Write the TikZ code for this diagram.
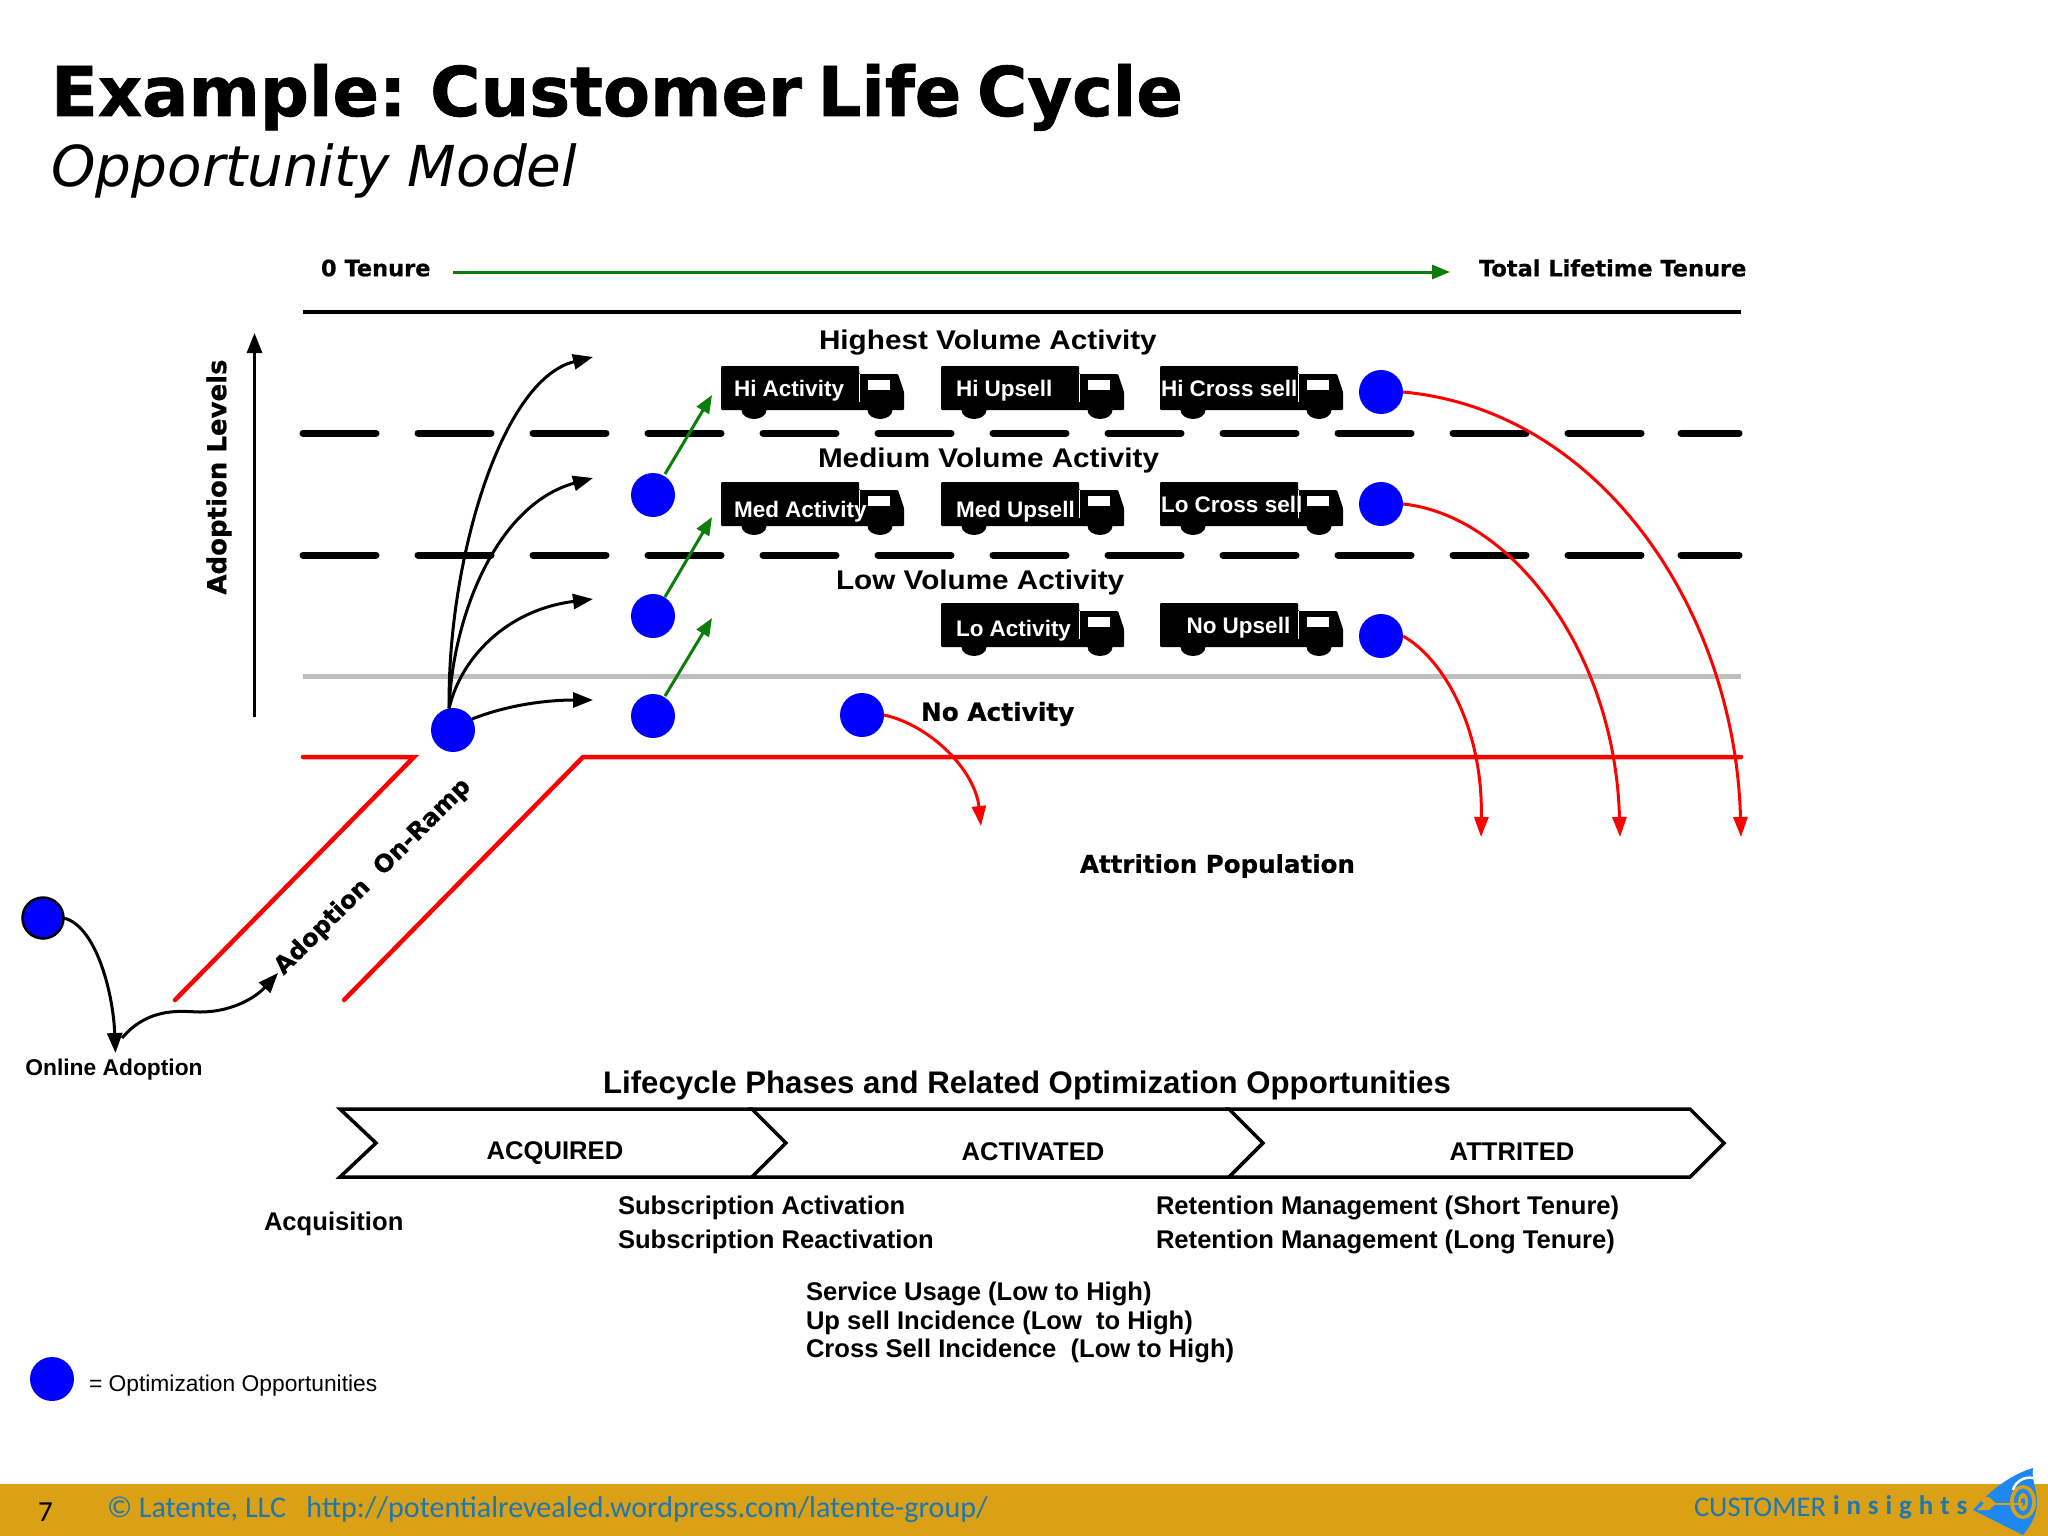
\documentclass[tikz,border=0pt]{standalone}
\usepackage{fontspec}
\setmainfont{Liberation Sans}
\newfontfamily\vbfam{DejaVu Sans}
\newfontfamily\vbheavy{DejaVu Sans}[BoldFeatures={FakeBold=0.6}]
\newfontfamily\tifam{DejaVu Sans}[BoldFeatures={FakeBold=1,WordSpace=0.66}]
\newfontfamily\crfam{Carlito}
\usetikzlibrary{arrows.meta}
\definecolor{band}{HTML}{DAA117}
\definecolor{fblue}{HTML}{1F77B0}
\definecolor{lblue}{HTML}{1E88F0}
\definecolor{arrgreen}{HTML}{0B7D0B}
\definecolor{grayline}{HTML}{BEBEBE}
\newcommand{\fsz}[1]{\fontsize{#1}{#1}\selectfont}
\newcommand{\lsp}{\hspace{6.9pt}}
\tikzset{
  txt/.style={inner sep=0pt,outer sep=0pt,anchor=west,text=black},
  ar/.style={txt,font={\fsz{#1}\bfseries}},
  hd/.style={txt,font={\fsz{27}\bfseries},xscale=1.10,transform shape},
  vb/.style={txt,font={\vbheavy\fsz{#1}\bfseries}},
  opp/.style={circle,fill=blue,inner sep=0pt,minimum size=44pt,outer sep=0pt},
  blk/.style={draw=black,line width=3pt,-{Triangle[length=20pt,width=15pt]}},
  grn/.style={draw=arrgreen,line width=3pt,-{Triangle[length=18pt,width=14pt]}},
  rd/.style={draw=red,line width=3pt,-{Triangle[length=20pt,width=14pt]}},
  road/.style={draw=red,line width=4.5pt,line cap=round,line join=miter},
  dashy/.style={draw=black,line width=7pt,line cap=round},
  chev/.style={draw=black,line width=3.5pt,line join=miter,fill=white},
}
\newcommand{\truck}[6]{% name,x,y,label,lx,ly
  \begin{scope}[shift={(#2,#3)}]
    \fill[black,rounded corners=1pt] (0,0) -- (138,0) -- (138,8) -- (177,8) -- (183,26) -- (183,44) -- (0,44) -- cycle;
    \fill[black] (33,44) ellipse (12.5 and 9);
    \fill[black] (159,44) ellipse (12.5 and 9);
    \fill[white] (147,13.5) rectangle (169,23.5);
    \draw[white,line width=1pt] (138.5,8) -- (138.5,36);
    \node[ar=22.5,text=white,anchor=west] (#1) at (#5,#6) {#4};
  \end{scope}}
\begin{document}
\begin{tikzpicture}[x=1pt,y=-1pt]
\useasboundingbox (0,0) rectangle (2048,1536);
\fill[white] (0,0) rectangle (2048,1536);
% title
\node[txt,anchor=base west,font={\tifam\fsz{68.6}\bfseries}] (title) at (51,116) {Example: Customer Life Cycle};
\node[txt,anchor=base west,font={\vbfam\fsz{56.4}\itshape}] (sub) at (51.5,186) {Opportunity Model};
% top
\node[vb=22.5] (t0) at (321,268) {0 Tenure};
\node[vb=22.5] (t1) at (1479,268) {Total Lifetime Tenure};
\coordinate (ga) at (453,272);
\coordinate (gb) at (1450,272);
\draw[grn] (ga) -- (gb);
\coordinate (la) at (303,312); \coordinate (lb) at (1741,312);
\draw[black,line width=4.5pt] (la) -- (lb);
% adoption levels
\coordinate (ala) at (254.5,717); \coordinate (alb) at (254.5,333);
\draw[blk] (ala) -- (alb);
\node[vb=26,rotate=90,anchor=center] (al) at (219,477) {Adoption Levels};
% lanes
\foreach \yy in {433,555}{
  \foreach \i in {0,...,11}{ \draw[dashy] ({303+115*\i},\yy) -- ({376+115*\i},\yy); }
  \draw[dashy] (1681,\yy) -- (1739,\yy);
}
\coordinate (gra) at (303,676); \coordinate (grb) at (1741,676);
\draw[grayline,line width=5pt] (gra) -- (grb);
% section labels
\node[hd] (h1) at (819,343) {Highest Volume Activity};
\node[hd] (h2) at (818,461) {Medium Volume Activity};
\node[hd] (h3) at (836,583) {Low Volume Activity};
% trucks
\truck{t11}{721}{366}{Hi Activity}{13}{25}
\truck{t12}{941}{366}{Hi Upsell}{15}{25}
\truck{t13}{1160}{366}{Hi Cross sell}{1}{22}
\truck{t21}{721}{482}{Med Activity}{13}{30}
\truck{t22}{941}{482}{Med Upsell}{15}{30}
\truck{t23}{1160}{482}{Lo Cross sell}{1}{22}
\truck{t32}{941}{603}{Lo Activity}{15}{28}
\truck{t33}{1160}{603}{No Upsell}{26.5}{25}
% road edges
\coordinate (r1) at (303,757); \coordinate (r2) at (414,757); \coordinate (r3) at (175,1000);
\coordinate (r4) at (344,1000); \coordinate (r5) at (583,757); \coordinate (r6) at (1741,757);
\draw[road] (r1) -- (r2) -- (r3);
\draw[road] (r4) -- (r5) -- (r6);
% circles
\node[opp] (ramp) at (453,730) {};
\node[opp] (c1) at (653,495) {};
\node[opp] (c2) at (653,616) {};
\node[opp] (c3) at (653,716) {};
\node[opp] (c4) at (862,715) {};
\node[opp] (r1c) at (1381,392) {};
\node[opp] (r2c) at (1381,504) {};
\node[opp] (r3c) at (1381,636) {};
\node[opp,draw=black,line width=2.5pt,minimum size=41pt] (start) at (43,918) {};
\node[opp] (leg) at (52,1379) {};
% black arrows from ramp
\coordinate (e1) at (593,357); \coordinate (e2) at (593,478);
\coordinate (e3) at (593,599); \coordinate (e4) at (593,700);
\draw[blk] (ramp.100) .. controls (447,565) and (500,380) .. (e1);
\draw[blk] (ramp.100) .. controls (452,620) and (495,505) .. (e2);
\draw[blk] (ramp.100) .. controls (460,660) and (505,610) .. (e3);
\draw[blk] (ramp.30) .. controls (510,704) and (550,700) .. (e4);
% green arrows
\coordinate (g1) at (712,395); \coordinate (g2) at (712,517); \coordinate (g3) at (712,618);
\draw[grn] (c1) ++(12,-21) -- (g1);
\draw[grn] (c2) ++(12,-19) -- (g2);
\draw[grn] (c3) ++(12,-20) -- (g3);
% red arrows
\coordinate (x1) at (1741,837); \coordinate (x2) at (1620,837);
\coordinate (x3) at (1481,837); \coordinate (x4) at (981,826);
\draw[rd] (r1c.east) .. controls (1600,410) and (1735,610) .. (x1);
\draw[rd] (r2c.east) .. controls (1510,515) and (1615,650) .. (x2);
\draw[rd] (r3c.east) .. controls (1445,660) and (1483,730) .. (x3);
\draw[rd] (c4.east) .. controls (930,725) and (975,770) .. (x4);
% texts middle
\node[vb=24.8] (na) at (921,714) {No Activity};
\node[vb=24.5] (ap) at (1080,866) {Attrition Population};
\node[vb=24.2,rotate=45,anchor=center] (aor) at (373,877) {Adoption\ \ On-Ramp};
% online adoption
\node[ar=22.8,anchor=center] (oa) at (114,1070) {Online Adoption};
\coordinate (oat) at (115.5,1053);
\coordinate (oas) at (122,1038);
\coordinate (oae) at (278,973);
\draw[blk] (start.east) .. controls (95,925) and (113,990) .. (oat);
\draw[blk] (oas) .. controls (150,1005) and (185,1012) .. (200,1012) .. controls (235,1012) and (258,995) .. (oae);
% lifecycle
\node[ar=31.2,anchor=center] (lp) at (1027,1085) {Lifecycle Phases and Related Optimization Opportunities};
\draw[chev] (340,1109) -- (752,1109) -- (786,1143) -- (752,1177) -- (340,1177) -- (376,1143) -- cycle;
\draw[chev] (752,1109) -- (1229,1109) -- (1263,1143) -- (1229,1177) -- (752,1177) -- (786,1143) -- cycle;
\draw[chev] (1229,1109) -- (1690,1109) -- (1724,1143) -- (1690,1177) -- (1229,1177) -- (1263,1143) -- cycle;
\node[ar=25.6,anchor=center] (p1) at (555,1153) {ACQUIRED};
\node[ar=25.6,anchor=center] (p2) at (1033,1152) {ACTIVATED};
\node[ar=25.6,anchor=center] (p3) at (1512,1152) {ATTRITED};
\node[ar=25.6] (q1) at (264,1224) {Acquisition};
\node[ar=25.6] (q2) at (618,1208) {Subscription Activation};
\node[ar=25.6] (q3) at (618,1242) {Subscription Reactivation};
\node[ar=25.6] (q4) at (1156,1208) {Retention Management (Short Tenure)};
\node[ar=25.6] (q5) at (1156,1242) {Retention Management (Long Tenure)};
\node[ar=25.6] (q6) at (806,1294) {Service Usage (Low to High)};
\node[ar=25.6] (q7) at (806,1323) {Up sell Incidence (Low\ \ to High)};
\node[ar=25.6] (q8) at (806,1351) {Cross Sell Incidence\ \ (Low to High)};
\node[txt,font=\fsz{22.8}] (lg) at (89,1386) {= Optimization Opportunities};
% footer
\fill[band] (0,1484) rectangle (2048,1536);
\node[txt,font={\crfam\fsz{29}}] (pg) at (38,1512) {7};
\node[txt,font={\crfam\fsz{30.1}},text=fblue] (cp) at (107,1510) {© Latente, LLC\ \ \ http://potentialrevealed.wordpress.com/latente-group/};
\node[txt,font={\crfam\fsz{28.5}},text=fblue] (cu) at (1694,1507) {CUSTOMER};
\node[txt,font={\crfam\fsz{27}\bfseries},text=fblue] (ins) at (1833,1507) {i\lsp n\lsp s\lsp i\lsp g\lsp h\lsp t\lsp s};
% logo
\fill[lblue] (1973,1510) .. controls (1990,1490) and (2012,1474) .. (2033,1468) .. controls (2031,1478) and (2037,1490) .. (2037,1502) .. controls (2037,1515) and (2031,1525) .. (2023,1535) -- cycle;
\draw[white,line width=2.5pt] (2013,1490) .. controls (2015,1482) and (2024,1476) .. (2033,1478);
\fill[band] (2023,1502) ellipse (13 and 17);
\fill[lblue] (2023,1502) ellipse (9 and 13.5);
\fill[band] (2023,1502) ellipse (5 and 9);
\fill[lblue] (2023,1502) ellipse (2.3 and 4);
\draw[band,line width=2pt] (1995,1503.5) -- (2023,1503.5);
\fill[band] (1977,1497) -- (1989,1497) -- (1996,1503.5) -- (1989,1510) -- (1977,1510) -- (1984,1503.5) -- cycle;
\end{tikzpicture}
\end{document}
